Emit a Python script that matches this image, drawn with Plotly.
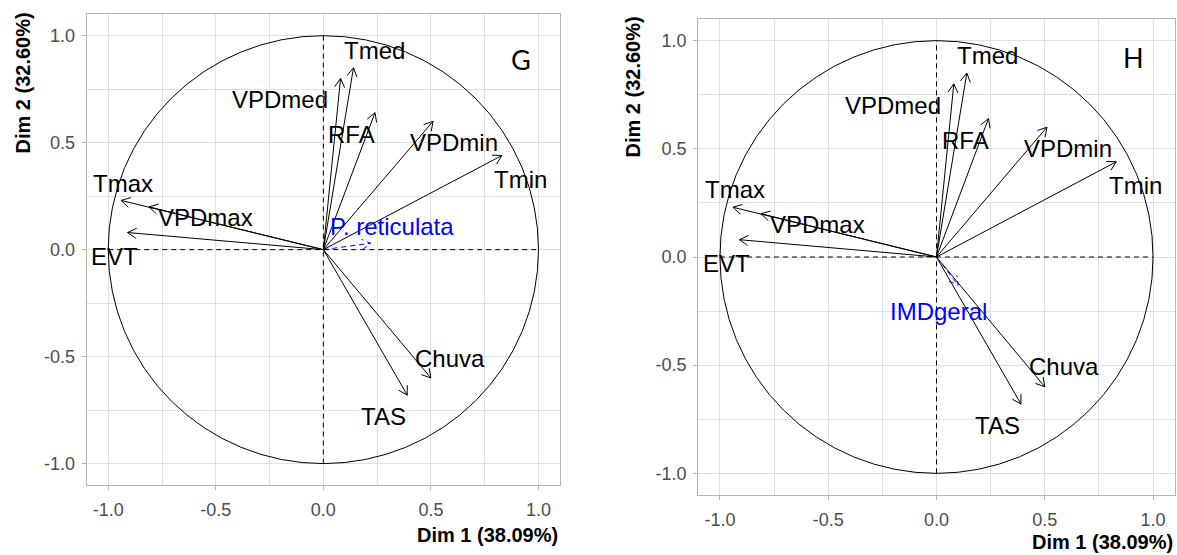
import math
import plotly.graph_objects as go

# ---- PCA variable coordinates (correlation circle) ----
variables = ["Tmax", "VPDmax", "EVT", "VPDmed", "Tmed", "RFA", "VPDmin", "Tmin", "Chuva", "TAS"]
dim1 = [-0.94, -0.81, -0.91, 0.08, 0.14, 0.24, 0.51, 0.83, 0.50, 0.39]
dim2 = [0.23, 0.20, 0.08, 0.80, 0.85, 0.64, 0.60, 0.44, -0.60, -0.68]

# supplementary variable of each panel
sup_names = ["P. reticulata", "IMDgeral"]
sup_dim1 = [0.22, 0.10]
sup_dim2 = [0.03, -0.13]

panel_letters = ["G", "H"]
axis_ticks = [-1.0, -0.5, 0.0, 0.5, 1.0]
x_title = "Dim 1 (38.09%)"
y_title = "Dim 2 (32.60%)"

# ---- layout geometry (pixels) ----
W, H = 1177, 555
RANGE = (-1.1, 1.1)
# left, top, right, bottom of each plotting panel
panel_box = [(86.7, 14.3, 560.0, 485.0), (698.3, 19.0, 1174.7, 495.0)]
# label centres for the variable names (data units)
label_pos = {
    "Tmax": (-0.93, 0.31), "VPDmax": (-0.55, 0.15), "EVT": (-0.97, -0.03),
    "VPDmed": (-0.20, 0.70), "Tmed": (0.236, 0.93), "RFA": (0.133, 0.54),
    "VPDmin": (0.607, 0.50), "Tmin": (0.917, 0.33), "Chuva": (0.59, -0.508),
    "TAS": (0.28, -0.78),
}
sup_label_pos = [(0.32, 0.11), (0.01, -0.25)]
letter_pos = [(0.917, 0.89), (0.909, 0.92)]
y_title_x = [22, 633]
y_title_top = [11, 15]
x_title_y = [535, 542]

FONT = "Liberation Sans, Arial, sans-serif"
GRID = "#E0E0E0"
BORDER = "#B5B5B5"
TICKTXT = "#4D4D4D"
SUP_COLOR = "#0000FF"
DASH = "5px,4px"
LABEL_SIZE = 24
TICK_SIZE = 18
TITLE_SIZE = 20


def arrow_path(xt, yt, sx, sy, length=10.0, angle=30.0):
    """Shaft from the origin plus an open arrow head, in data units."""
    xs = [0, xt, None]
    ys = [0, yt, None]
    dx, dy = xt * sx, yt * sy
    L = math.hypot(dx, dy)
    ux, uy = -dx / L, -dy / L
    pts = []
    for s in (1, -1):
        a = math.radians(angle) * s
        bx = ux * math.cos(a) - uy * math.sin(a)
        by = ux * math.sin(a) + uy * math.cos(a)
        pts.append((xt + bx * length / sx, yt + by * length / sy))
    xs += [pts[0][0], xt, pts[1][0], None]
    ys += [pts[0][1], yt, pts[1][1], None]
    return xs, ys


fig = go.Figure()
annotations = []
shapes = []

for i in range(2):
    left, top, right, bottom = panel_box[i]
    sx = (right - left) / (RANGE[1] - RANGE[0])
    sy = (bottom - top) / (RANGE[1] - RANGE[0])
    xa = "x" if i == 0 else "x2"
    ya = "y" if i == 0 else "y2"

    # unit circle and reference lines
    shapes.append(dict(type="circle", xref=xa, yref=ya, x0=-1, y0=-1, x1=1, y1=1,
                       line=dict(color="black", width=1), layer="above"))
    shapes.append(dict(type="line", xref=xa, yref=ya, x0=-1, x1=1, y0=0, y1=0,
                       line=dict(color="black", width=1, dash=DASH), layer="above"))
    shapes.append(dict(type="line", xref=xa, yref=ya, x0=0, x1=0, y0=-1, y1=1,
                       line=dict(color="black", width=1, dash=DASH), layer="above"))

    # active variables
    ax, ay = [], []
    for v, x, y in zip(variables, dim1, dim2):
        px, py = arrow_path(x, y, sx, sy)
        ax += px
        ay += py
    fig.add_trace(go.Scatter(x=ax, y=ay, mode="lines", xaxis=xa, yaxis=ya,
                             line=dict(color="black", width=1), hoverinfo="skip",
                             showlegend=False))
    # supplementary variable
    px, py = arrow_path(sup_dim1[i], sup_dim2[i], sx, sy)
    fig.add_trace(go.Scatter(x=px, y=py, mode="lines", xaxis=xa, yaxis=ya,
                             line=dict(color=SUP_COLOR, width=1, dash=DASH),
                             hoverinfo="skip", showlegend=False))

    # variable names
    for v in variables:
        lx, ly = label_pos[v]
        annotations.append(dict(x=lx, y=ly, xref=xa, yref=ya, text=v, showarrow=False,
                                font=dict(family=FONT, size=LABEL_SIZE, color="black")))
    lx, ly = sup_label_pos[i]
    annotations.append(dict(x=lx, y=ly, xref=xa, yref=ya, text=sup_names[i], showarrow=False,
                            font=dict(family=FONT, size=LABEL_SIZE, color=SUP_COLOR)))

    # panel letter
    lx, ly = letter_pos[i]
    annotations.append(dict(x=lx, y=ly, xref=xa, yref=ya, text=panel_letters[i],
                            showarrow=False, font=dict(family="Lato, Carlito, sans-serif",
                                                        size=27, color="black")))

    # axis titles
    annotations.append(dict(x=right / W, y=1 - x_title_y[i] / H, xref="paper", yref="paper",
                            xanchor="right", yanchor="middle", text="<b>%s</b>" % x_title,
                            showarrow=False, font=dict(family=FONT, size=TITLE_SIZE,
                                                       color="black")))
    annotations.append(dict(x=y_title_x[i] / W, y=1 - y_title_top[i] / H, xref="paper",
                            yref="paper", xanchor="center", yanchor="top", textangle=-90,
                            text="<b>%s</b>" % y_title, showarrow=False,
                            font=dict(family=FONT, size=TITLE_SIZE, color="black")))

tick_text = ["%.1f" % t for t in axis_ticks]
axis_common = dict(range=list(RANGE), tickvals=axis_ticks, ticktext=tick_text,
                   showgrid=True, gridcolor=GRID, gridwidth=1.3, zeroline=False,
                   showline=True, mirror=True, linecolor=BORDER, linewidth=1.3,
                   ticks="outside", ticklen=4, tickcolor=BORDER, tickwidth=1.3,
                   tickfont=dict(family=FONT, size=TICK_SIZE, color=TICKTXT),
                   minor=dict(dtick=0.25, tick0=0, showgrid=True, gridcolor=GRID,
                              gridwidth=1, ticks=""),
                   fixedrange=True)

layout = dict(width=W, height=H, margin=dict(l=0, r=0, t=0, b=0),
              paper_bgcolor="white", plot_bgcolor="white",
              annotations=annotations, shapes=shapes, showlegend=False)
for i in range(2):
    left, top, right, bottom = panel_box[i]
    sfx = "" if i == 0 else "2"
    layout["xaxis" + sfx] = dict(axis_common, domain=[left / W, right / W],
                                 anchor="y" + sfx, ticklabelstandoff=4)
    layout["yaxis" + sfx] = dict(axis_common, domain=[1 - bottom / H, 1 - top / H],
                                 anchor="x" + sfx, ticklabelstandoff=3)

fig.update_layout(**layout)
fig.write_html("out.html")
